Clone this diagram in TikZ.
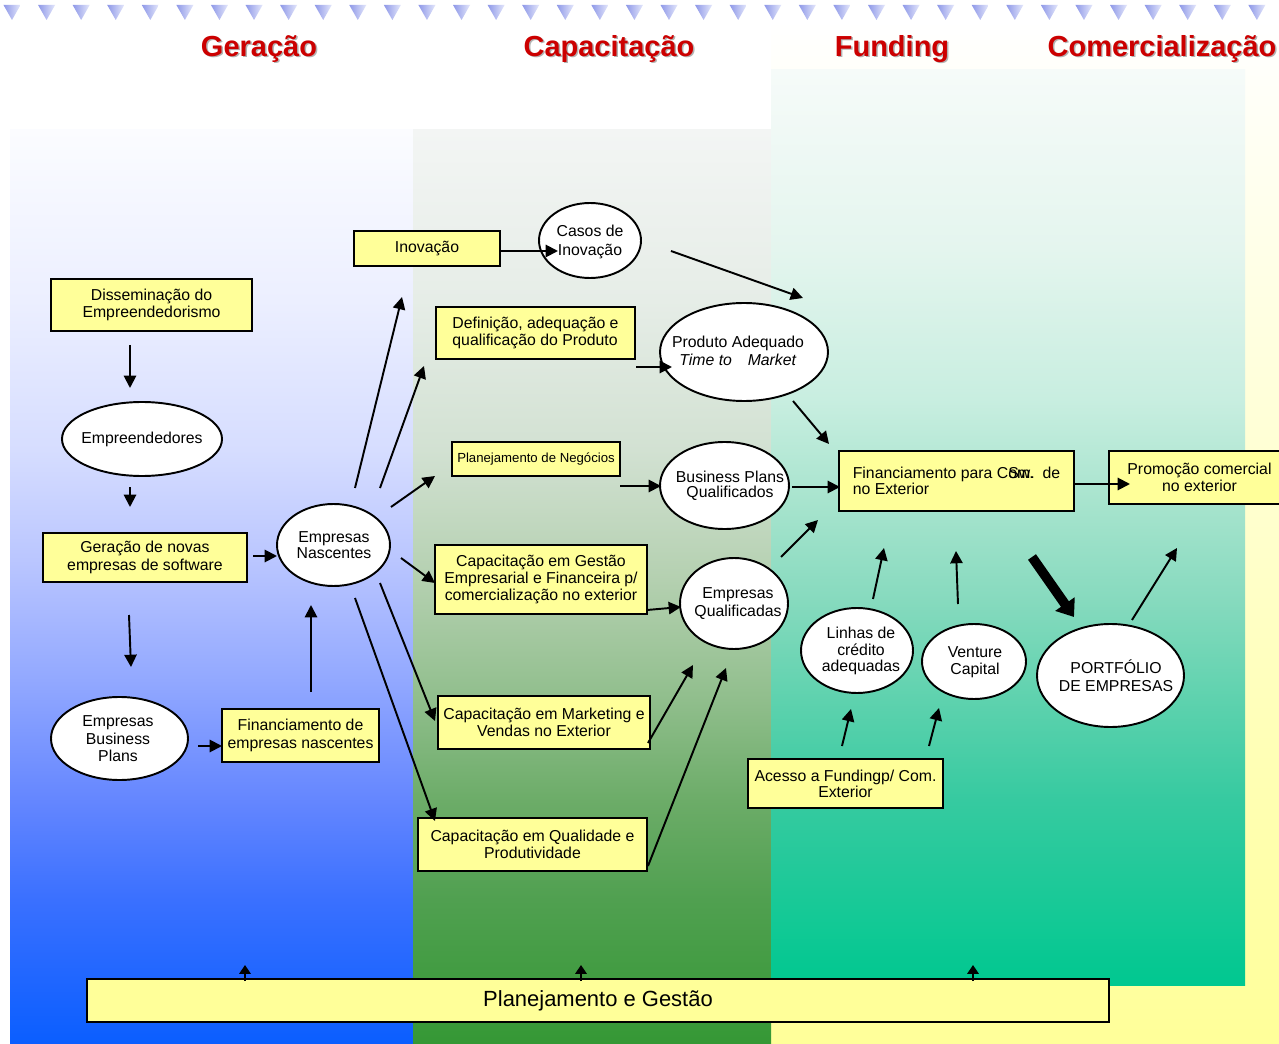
\documentclass[tikz,border=0pt]{standalone}
\usepackage{fontspec}
\setmainfont{Liberation Sans}
\usetikzlibrary{shapes.geometric,arrows.meta}
\definecolor{boxy}{HTML}{FFFF99}
\definecolor{headred}{HTML}{CC0000}
\definecolor{yelA}{HTML}{FFFFFF}
\definecolor{yelB}{HTML}{FFFF99}
\definecolor{triL}{HTML}{8E98E8}
\definecolor{triR}{HTML}{E4E7FB}
% blue panel stops (y 130 -> 1044)
\definecolor{b0}{HTML}{FBFCFF}\definecolor{b1}{HTML}{ECEFFF}\definecolor{b2}{HTML}{D6DDFF}
\definecolor{b3}{HTML}{BAC6FF}\definecolor{b4}{HTML}{92A8FF}\definecolor{b5}{HTML}{6486FF}
\definecolor{b6}{HTML}{3A70FF}\definecolor{b7}{HTML}{0A5EFF}
\pgfdeclareverticalshading{blueshade}{100bp}{color(0bp)=(b7); color(25bp)=(b7);
  color(32.9bp)=(b6); color(38.3bp)=(b5); color(44.9bp)=(b4); color(51.5bp)=(b3);
  color(57.5bp)=(b2); color(65.7bp)=(b1); color(75bp)=(b0); color(100bp)=(b0)}
% green panel stops (y 130 -> 1044)
\definecolor{g0}{HTML}{F3F5F4}\definecolor{g1}{HTML}{E6EDE7}\definecolor{g2}{HTML}{D2E1D2}
\definecolor{g3}{HTML}{B4D0B0}\definecolor{g4}{HTML}{90BE8C}\definecolor{g5}{HTML}{6CAC68}
\definecolor{g6}{HTML}{50A050}\definecolor{g7}{HTML}{359835}
\pgfdeclareverticalshading{greenshade}{100bp}{color(0bp)=(g7); color(25bp)=(g7);
  color(32.9bp)=(g6); color(38.3bp)=(g5); color(43.8bp)=(g4); color(50.4bp)=(g3);
  color(57.5bp)=(g2); color(65.7bp)=(g1); color(75bp)=(g0); color(100bp)=(g0)}
% teal panel stops (y 70 -> 985)
\definecolor{t0}{HTML}{F6FBF9}\definecolor{t1}{HTML}{E4F5EE}\definecolor{t2}{HTML}{C8EEE0}
\definecolor{t3}{HTML}{A8E4CE}\definecolor{t4}{HTML}{86DABE}\definecolor{t5}{HTML}{5ED2AE}
\definecolor{t6}{HTML}{36CAA0}\definecolor{t7}{HTML}{00C890}
\pgfdeclareverticalshading{tealshade}{100bp}{color(0bp)=(t7); color(25bp)=(t7);
  color(35.1bp)=(t6); color(40.6bp)=(t5); color(46bp)=(t4); color(51.5bp)=(t3);
  color(57bp)=(t2); color(65.2bp)=(t1); color(75bp)=(t0); color(100bp)=(t0)}
\tikzset{
  wh/.style 2 args={minimum width=#1*0.02cm, minimum height=#2*0.02cm},
  box/.style={draw, line width=1.1pt, fill=boxy, inner sep=1pt, align=center,
    font=\fontsize{9}{10}\selectfont},
  ell/.style={ellipse, draw, line width=1.1pt, fill=white, inner sep=0pt},
  ellt/.style={inner sep=0pt, align=center, font=\fontsize{9}{10}\selectfont},
  arr/.style={line width=1.1pt, -{Triangle[length=7pt,width=7pt]}},
  uparr/.style={line width=0.8pt, -{Triangle[length=5pt,width=6.5pt]}},
  bigarr/.style={line width=5.5pt, -{Triangle[length=9pt,width=13pt]}},
  head/.style={font=\fontsize{16.5}{20}\selectfont\bfseries, text=headred},
  headsh/.style={font=\fontsize{16.5}{20}\selectfont\bfseries, text=black!30},
}
\begin{document}
\begin{tikzpicture}[x=0.02cm,y=-0.02cm]
\useasboundingbox (0,0) rectangle (1279,1044);
\fill[white] (0,0) rectangle (1279,1044);
% background panels
\shade[top color=yelA, bottom color=yelB] (771,20) rectangle (1279,1044);
\shade[shading=blueshade] (10,130) rectangle (413,1044);
\shade[shading=greenshade] (413,130) rectangle (771,1044);
\shade[shading=tealshade] (771,70) rectangle (1245,985);
% top triangles
\foreach \i in {0,...,36}{
  \pgfmathsetmacro\cx{12+34.58*\i}
  \shade[left color=triL, right color=triR] (\cx-8.5,5) -- (\cx+8.5,5) -- (\cx,20) -- cycle;
}
% headings
\foreach \t/\x in {Geração/259, Capacitação/609, Funding/892, Comercialização/1162}{
  \node[headsh] at (\x+1.5,50.5) {\t};
  \node[head] at (\x,49) {\t};
}
% rectangular nodes
\node[box,wh={201}{52}] (dis) at (151.5,305) {Disseminação do\\Empreendedorismo};
\node[box,wh={204}{49}] (ger) at (145,557.5) {Geração de novas\\empresas de software};
\node[box,wh={157}{53}] (fin) at (300.5,735.5) {Financiamento de\\empresas nascentes};
\node[box,wh={146}{35}] (ino) at (427,248.5) {Inovação};
\node[box,wh={199}{52},align=left,font=\fontsize{9}{9.2}\selectfont] (def) at (535.5,333) {Definição, adequação e\\qualificação do Produto};
\node[box,wh={168}{34},font=\fontsize{7.5}{9}\selectfont] (pla) at (536,459) {Planejamento de Negócios};
\node[box,wh={212}{69},font=\fontsize{9}{9.6}\selectfont] (cge) at (541,579.5) {Capacitação em Gestão\\Empresarial e Financeira p/\\comercialização no exterior};
\node[box,wh={212}{53}] (cmk) at (544,722.5) {Capacitação em Marketing e\\Vendas no Exterior};
\node[box,wh={229}{53}] (cqp) at (532.5,844.5) {Capacitação em Qualidade e\\Produtividade};
\node[box,wh={235}{60},align=left,font=\fontsize{9}{9.2}\selectfont] (fpc) at (956.5,481) {Financiamento para C\rlap{om.}Sw.\ \ de\\no Exterior};
\node[box,wh={181}{53},font=\fontsize{9}{9.6}\selectfont] (pce) at (1199.5,477.5) {Promoção comercial\\no exterior};
\node[box,wh={195}{49},font=\fontsize{9}{9.2}\selectfont] (ace) at (845.5,783.5) {Acesso a Fundingp/ Com.\\Exterior};
\node[box,wh={1022}{43},font=\fontsize{12.5}{14}\selectfont] (peg) at (598,1000.5) {Planejamento e Gestão};
% elliptic nodes (shape) and their texts
\node[ell,wh={160}{74}] (emp) at (142,439) {};
\node[ellt] (empt) at (142,439) {Empreendedores};
\node[ell,wh={137}{83}] (ebp) at (119.5,738.5) {};
\node[ellt] (ebpt) at (118,739) {Empresas\\Business\\Plans};
\node[ell,wh={113}{82}] (nas) at (333.5,545) {};
\node[ellt,font=\fontsize{9}{8.8}\selectfont] (nast) at (334,545) {Empresas\\Nascentes};
\node[ell,wh={102}{75}] (cas) at (590,240.5) {};
\node[ellt,font=\fontsize{9}{10.6}\selectfont] (cast) at (590,242) {Casos de\\Inovação};
\node[ell,wh={168}{98}] (pro) at (744,352) {};
\node[ellt] (prot) at (738,351) {Produto Adequado\\\textit{Time to\quad Market}};
\node[ell,wh={129}{87}] (bpq) at (724.5,485.5) {};
\node[ellt,font=\fontsize{9}{8.6}\selectfont] (bpqt) at (730,485.5) {Business Plans\\Qualificados};
\node[ell,wh={108}{91}] (eq) at (734,603.5) {};
\node[ellt] (eqt) at (738,603.5) {Empresas\\Qualificadas};
\node[ell,wh={112}{85}] (lin) at (857,650.5) {};
\node[ellt,font=\fontsize{9}{9.4}\selectfont] (lint) at (861,651) {Linhas de\\crédito\\adequadas};
\node[ell,wh={104}{75}] (vc) at (974,661.5) {};
\node[ellt] (vct) at (975,662) {Venture\\Capital};
\node[ell,wh={147}{103}] (port) at (1110.5,675.5) {};
\node[ellt] (portt) at (1116,675.5) {PORTFÓLIO\\DE EMPRESAS};
% free arrow ends
\coordinate (d1) at (130,345);  \coordinate (d2) at (130,388);
\coordinate (e1) at (130,487);  \coordinate (e2) at (130,507);
\coordinate (g1) at (129,615);  \coordinate (g2) at (131,667);
\coordinate (g3) at (253,556);  \coordinate (g4) at (277,556);
\coordinate (b1) at (198,746);  \coordinate (b2) at (222,746);
\coordinate (f1) at (311,692);  \coordinate (f2) at (311,605);
\coordinate (n1) at (355,488);  \coordinate (n1e) at (402,297);
\coordinate (n2) at (380,488);  \coordinate (n2e) at (424,366);
\coordinate (n3) at (391,507);  \coordinate (n3e) at (435,476);
\coordinate (n4) at (401,558);  \coordinate (n4e) at (435,583);
\coordinate (n5) at (380,583);  \coordinate (n5e) at (435,721);
\coordinate (n6) at (355,598);  \coordinate (n6e) at (435,821);
\coordinate (i1) at (500,251);  \coordinate (i2) at (558,251);
\coordinate (c1) at (671,251);  \coordinate (c2) at (803,298);
\coordinate (p1) at (636,367);  \coordinate (p2) at (672,367);
\coordinate (p3) at (793,401);  \coordinate (p4) at (829,444);
\coordinate (q1) at (620,486);  \coordinate (q2) at (661,486);
\coordinate (q3) at (792,487);  \coordinate (q4) at (840,487);
\coordinate (s1) at (647,610);  \coordinate (s2) at (681,607);
\coordinate (s3) at (781,557);  \coordinate (s4) at (818,520);
\coordinate (m1) at (648,743);  \coordinate (m2) at (693,665);
\coordinate (m3) at (648,866);  \coordinate (m4) at (726,668);
\coordinate (r1) at (1074,484); \coordinate (r2) at (1130,484);
\coordinate (l1) at (873,599);  \coordinate (l2) at (884,548);
\coordinate (v1) at (958,604);  \coordinate (v2) at (956,551);
\coordinate (t1) at (1032,557); \coordinate (t2) at (1074,617);
\coordinate (o1) at (1132,620); \coordinate (o2) at (1177,548);
\coordinate (h1) at (842,746);  \coordinate (h2) at (851,709);
\coordinate (h3) at (929,746);  \coordinate (h4) at (939,708);
\coordinate (u1) at (245,981);  \coordinate (u2) at (245,965);
\coordinate (u3) at (581,981);  \coordinate (u4) at (581,965);
\coordinate (u5) at (973,981);  \coordinate (u6) at (973,965);
% connectors
\foreach \a/\b in {d1/d2,e1/e2,g1/g2,g3/g4,b1/b2,f1/f2,n1/n1e,n2/n2e,n3/n3e,n4/n4e,n5/n5e,n6/n6e,
  i1/i2,c1/c2,p1/p2,p3/p4,q1/q2,q3/q4,s1/s2,s3/s4,m1/m2,m3/m4,r1/r2,l1/l2,v1/v2,o1/o2,h1/h2,h3/h4}
  \draw[arr] (\a) -- (\b);
\draw[bigarr] (t1) -- (t2);
\foreach \a/\b in {u1/u2,u3/u4,u5/u6}
  \draw[uparr] (\a) -- (\b);
\end{tikzpicture}
\end{document}
